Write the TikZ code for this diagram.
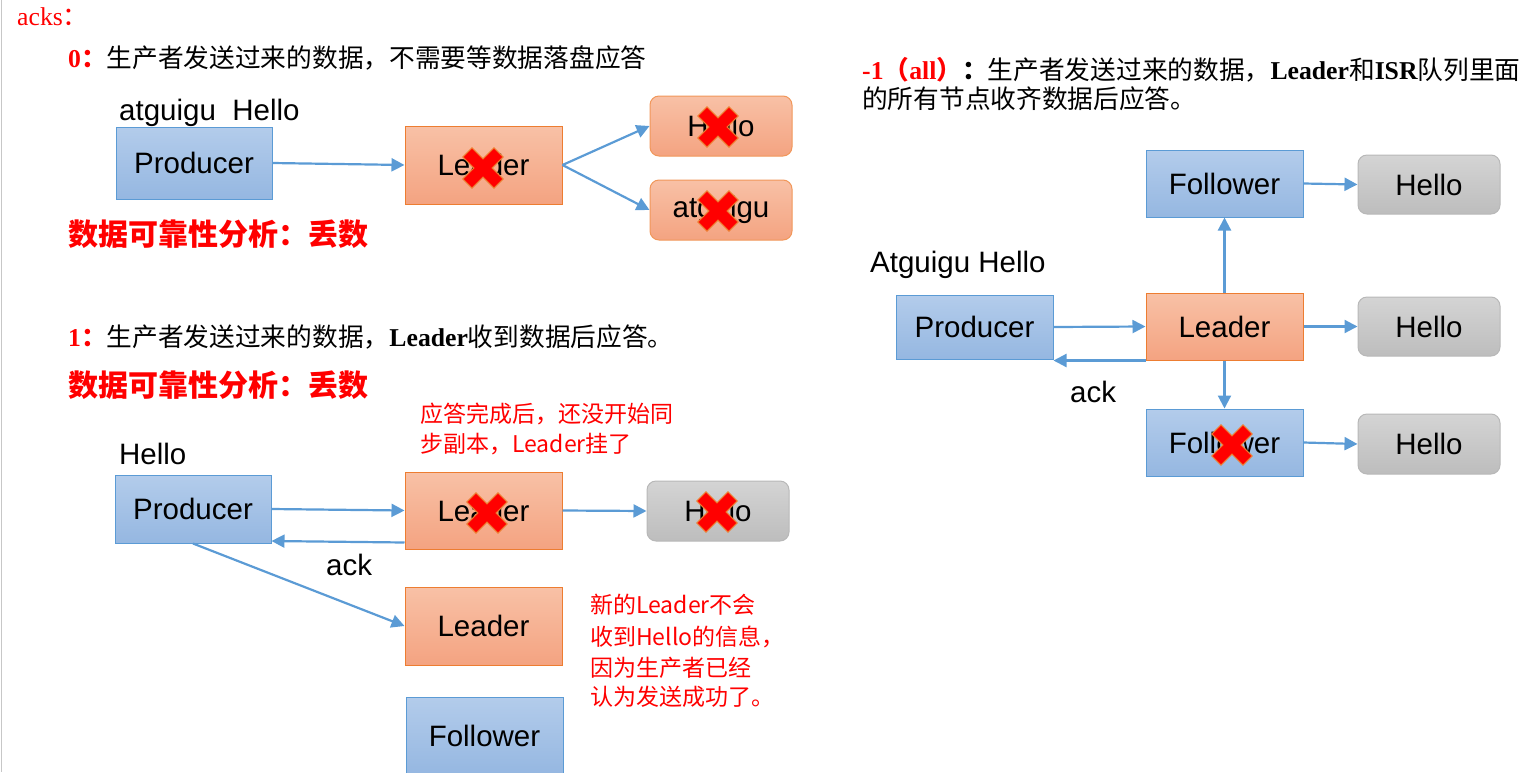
\documentclass[tikz,border=0pt]{standalone}
\usepackage{fontspec}
\setmainfont{Liberation Serif}
\newfontfamily\cjk{Noto Sans CJK SC}
\newfontfamily\arial{Liberation Sans}
\usetikzlibrary{arrows.meta}
\definecolor{bblue}{HTML}{5B9BD5}
\definecolor{bluetop}{HTML}{B3CCEB}
\definecolor{bluebot}{HTML}{95B7E1}
\definecolor{oborder}{HTML}{ED7D31}
\definecolor{otop}{HTML}{F8C1A6}
\definecolor{obot}{HTML}{F4A381}
\definecolor{gborder}{HTML}{B8B8B8}
\definecolor{gtop}{HTML}{D4D4D4}
\definecolor{gbot}{HTML}{BDBDBD}
\definecolor{xred}{HTML}{FF0000}
\definecolor{xedge}{HTML}{EE7A2E}
\begin{document}
\begin{tikzpicture}[x=1pt,y=-1pt,
  box/.style={rectangle, inner sep=0pt, line width=1pt, font=\arial\fontsize{29.5}{32}\selectfont},
  bluebox/.style={box, draw=bblue, top color=bluetop, bottom color=bluebot},
  orangebox/.style={box, draw=oborder, top color=otop, bottom color=obot},
  orangeround/.style={orangebox, rounded corners=9pt, draw=oborder!80},
  grayround/.style={box, rounded corners=9pt, draw=gborder, top color=gtop, bottom color=gbot},
  flow/.style={draw=bblue, line width=2.2pt, -{Triangle[length=13pt,width=13pt]}},
  txt/.style={inner sep=0pt, anchor=base west},
  plain/.style={txt, font=\arial\fontsize{29.5}{32}\selectfont},
  head/.style={txt, font=\fontsize{25.7}{30}\selectfont},
  warn/.style={txt, text=xred, font=\cjk\bfseries\fontsize{30}{34}\selectfont},
  note/.style={txt, text=xred, font=\cjk\fontsize{23}{28}\selectfont},
  redcross/.pic={\filldraw[fill=xred, draw=xedge, line width=1.1pt, rotate=45]
     (-6.5,-22) -- (6.5,-22) -- (6.5,-6.5) -- (22,-6.5) -- (22,6.5) -- (6.5,6.5) --
     (6.5,22) -- (-6.5,22) -- (-6.5,6.5) -- (-22,6.5) -- (-22,-6.5) -- (-6.5,-6.5) -- cycle;}
]
\useasboundingbox (0,0) rectangle (1535,772);
\clip (0,0) rectangle (1535,772);
\draw[black!22, line width=1pt] (1,0) -- (1,772);

% ---------- headings ----------
\node[head, text=xred] (acks) at (17,25) {acks{\cjk ：}};
\node[head] (h0) at (68,67) {{\color{xred}\bfseries 0{\cjk ：}}{\cjk 生产者发送过来的数据，不需要等数据落盘应答}};
\node[warn] (w0) at (68,245) {数据可靠性分析：丢数};
\node[head] (h1) at (68,346) {{\color{xred}\bfseries 1{\cjk ：}}{\cjk 生产者发送过来的数据，}{\bfseries Leader}{\cjk 收到数据后应答。}};
\node[warn] (w1) at (68,396) {数据可靠性分析：丢数};
\node[head] (hm1) at (862,79) {{\color{xred}\bfseries -1{\cjk （}all{\cjk ）}}{\bfseries\cjk ：}{\cjk 生产者发送过来的数据，}{\bfseries Leader}{\cjk 和}{\bfseries ISR}{\cjk 队列里面}};
\node[head] (hm2) at (862,108) {{\cjk 的所有节点收齐数据后应答。}};

% ---------- acks = 0 ----------
\node[plain] (lblA) at (119,120) {atguigu\ \ Hello};
\node[bluebox, minimum width=156pt, minimum height=72pt] (pA) at (194,163) {Producer};
\node[orangebox, minimum width=157pt, minimum height=78pt] (lA) at (483.5,165) {Leader};
\node[orangeround, minimum width=142pt, minimum height=60pt] (hA) at (721,126) {Hello};
\node[orangeround, minimum width=142pt, minimum height=60pt] (gA) at (721,210) {atguigu};
\draw[flow] (pA.east) -- (lA.west);
\draw[flow] (lA.east) -- (hA.west);
\draw[flow] (lA.east) -- (gA.west);
\pic at (483,168) {redcross};
\pic at (718,127) {redcross};
\pic at (718,211) {redcross};

% ---------- acks = 1 ----------
\node[note] (n1a) at (420,422) {应答完成后，还没开始同};
\node[note] (n1b) at (420,452) {步副本，Leader挂了};
\node[plain] (lblB) at (119,464) {Hello};
\node[bluebox, minimum width=156pt, minimum height=68pt] (pB) at (193,509) {Producer};
\node[orangebox, minimum width=157pt, minimum height=77pt] (lB) at (483.5,510.5) {Leader};
\node[grayround, minimum width=142pt, minimum height=60pt] (hB) at (718,511) {Hello};
\node[orangebox, minimum width=157pt, minimum height=78pt] (lB2) at (483.5,626) {Leader};
\node[bluebox, minimum width=157pt, minimum height=78pt] (fB) at (484.5,736) {Follower};
\draw[flow] (pB.east) -- (lB.west);
\draw[flow] ([yshift=-32pt]lB.west) -- ([yshift=-32pt]pB.east);
\node[plain] (ackB) at (326,575) {ack};
\draw[flow] (lB.east) -- (hB.west);
\draw[flow] (pB.south) -- (lB2.west);
\pic at (487,513) {redcross};
\pic at (717,512) {redcross};
\node[note] (n2a) at (590,613) {新的Leader不会};
\node[note] (n2b) at (590,645) {收到Hello的信息，};
\node[note] (n2c) at (590,676) {因为生产者已经};
\node[note] (n2d) at (590,705) {认为发送成功了。};

% ---------- acks = -1 ----------
\node[plain] (lblC) at (870,272) {Atguigu Hello};
\node[bluebox, minimum width=157pt, minimum height=64pt] (pC) at (974.5,327) {Producer};
\node[orangebox, minimum width=157pt, minimum height=67pt] (lC) at (1224.5,326.5) {Leader};
\node[bluebox, minimum width=157pt, minimum height=67pt] (fC1) at (1224.5,183.5) {Follower};
\node[bluebox, minimum width=157pt, minimum height=67pt] (fC2) at (1224.5,442.5) {Follower};
\node[grayround, minimum width=142pt, minimum height=59pt] (hC1) at (1429,184.5) {Hello};
\node[grayround, minimum width=142pt, minimum height=59pt] (hC2) at (1429,326.5) {Hello};
\node[grayround, minimum width=142pt, minimum height=60pt] (hC3) at (1429,444) {Hello};
\draw[flow] (pC.east) -- (lC.west);
\draw[flow] (lC.south west) -- (lC.south west -| pC.east);
\node[plain] (ackC) at (1070,402) {ack};
\draw[flow] (lC.north) -- (fC1.south);
\draw[flow] (lC.south) -- (fC2.north);
\draw[flow] (fC1.east) -- (hC1.west);
\draw[flow] (lC.east) -- (hC2.west);
\draw[flow] (fC2.east) -- (hC3.west);
\pic at (1232,445) {redcross};
\end{tikzpicture}
\end{document}
